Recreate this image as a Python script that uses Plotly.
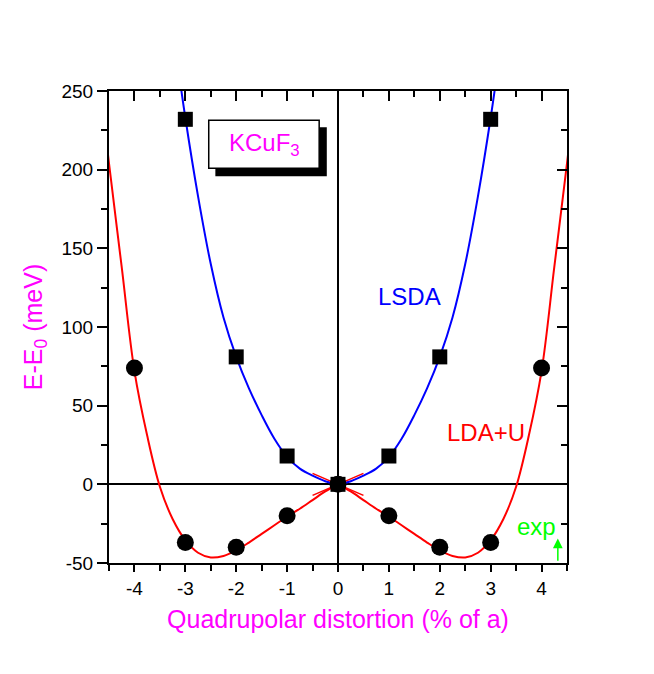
import plotly.graph_objects as go

# ---- data ----
lsda_x = [-3, -2, -1, 0, 1, 2, 3]
lsda_y = [232, 81, 18, 0, 18, 81, 232]

ldau_x = [-4, -3, -2, -1, 0, 1, 2, 3, 4]
ldau_y = [74, -37, -40, -20, 0, -20, -40, -37, 74]

lsda_fit_x = [-3.15, -3.0, -2.75, -2.5, -2.25, -2.0, -1.75, -1.5, -1.25, -1.0, -0.75, -0.5, -0.25, 0.0,
              0.25, 0.5, 0.75, 1.0, 1.25, 1.5, 1.75, 2.0, 2.25, 2.5, 2.75, 3.0, 3.15]
lsda_fit_y = [267, 233, 183, 140, 106, 81, 61, 44, 29, 17.5, 10, 5.5, 2, 0,
              2, 5.5, 10, 17.5, 29, 44, 61, 81, 106, 140, 183, 233, 267]

ldau_fit_left_x = [-4.6, -4.5, -4.25, -4.0, -3.75, -3.5, -3.25, -3.0, -2.75, -2.5, -2.25, -2.0,
                   -1.75, -1.5, -1.25, -1.0, -0.75, -0.5, -0.25, 0.0]
ldau_fit_left_y = [232, 204, 138, 72, 31, -1.5, -22, -35.5, -43.5, -46.5, -45.5, -42,
                   -37, -31.5, -26, -20.5, -15.5, -10, -4.5, 0]
ldau_fit_right_x = [0.0, 0.25, 0.5, 0.75, 1.0, 1.25, 1.5, 1.75, 2.0, 2.25, 2.5, 2.75, 3.0,
                    3.25, 3.5, 3.75, 4.0, 4.25, 4.5, 4.6]
ldau_fit_right_y = [0, -4.5, -10, -15.5, -20.5, -26, -31.5, -37, -42, -45.5, -46.5, -43.5, -35.5,
                    -22, -1.5, 31, 72, 138, 204, 232]

tangent1_x = [-0.5, 0.5]
tangent1_y = [7, -7]
tangent2_x = [-0.5, 0.5]
tangent2_y = [-7, 7]

x_ticks = [-4, -3, -2, -1, 0, 1, 2, 3, 4]
x_ticklabels = ["-4", "-3", "-2", "-1", "0", "1", "2", "3", "4"]
y_ticks = [-50, 0, 50, 100, 150, 200, 250]
y_ticklabels = ["-50", "0", "50", "100", "150", "200", "250"]

FONT = "Liberation Sans, Arial, Helvetica, sans-serif"
BLUE = "#0000ff"
RED = "#ff0000"
MAG = "#ff00ff"
GREEN = "#00ff00"

fig = go.Figure()

fig.add_trace(go.Scatter(x=lsda_fit_x, y=lsda_fit_y, mode="lines", line=dict(color=BLUE, width=2, shape="spline"),
                         hoverinfo="skip", showlegend=False))
fig.add_trace(go.Scatter(x=ldau_fit_left_x, y=ldau_fit_left_y, mode="lines",
                         line=dict(color=RED, width=2, shape="spline"), hoverinfo="skip", showlegend=False))
fig.add_trace(go.Scatter(x=ldau_fit_right_x, y=ldau_fit_right_y, mode="lines",
                         line=dict(color=RED, width=2, shape="spline"), hoverinfo="skip", showlegend=False))
fig.add_trace(go.Scatter(x=tangent1_x, y=tangent1_y, mode="lines", line=dict(color=RED, width=1.5),
                         hoverinfo="skip", showlegend=False))
fig.add_trace(go.Scatter(x=tangent2_x, y=tangent2_y, mode="lines", line=dict(color=RED, width=1.5),
                         hoverinfo="skip", showlegend=False))

fig.add_trace(go.Scatter(x=lsda_x, y=lsda_y, mode="markers",
                         marker=dict(symbol="square", size=15, color="black"), showlegend=False))
fig.add_trace(go.Scatter(x=ldau_x, y=ldau_y, mode="markers",
                         marker=dict(symbol="circle", size=17, color="black"), showlegend=False))

# invisible trace to activate mirrored (top/right) axes
fig.add_trace(go.Scatter(x=lsda_x, y=lsda_y, mode="markers", xaxis="x2", yaxis="y2",
                         marker=dict(opacity=0), hoverinfo="skip", showlegend=False))

axis_common = dict(showgrid=False, linecolor="black", linewidth=2, tickcolor="black", tickwidth=2)

fig.update_layout(
    width=654, height=674,
    margin=dict(l=101, r=95, t=83, b=119),
    paper_bgcolor="white", plot_bgcolor="white",
    font=dict(family=FONT, color="black", size=19),
    xaxis=dict(range=[-4.5, 4.5], tickvals=x_ticks, ticktext=x_ticklabels, ticks="outside", ticklen=7,
               minor=dict(dtick=0.5, tick0=0, ticks="outside", ticklen=6, tickcolor="black", tickwidth=2),
               zeroline=True, zerolinecolor="black", zerolinewidth=1.5,
               tickfont=dict(size=19),
               title=dict(text="Quadrupolar distortion (% of a)", font=dict(color=MAG, size=25), standoff=13),
               **axis_common),
    yaxis=dict(range=[-50, 250], tickvals=y_ticks, ticktext=y_ticklabels, ticks="outside", ticklen=10,
               minor=dict(dtick=25, tick0=0, ticks="outside", ticklen=6, tickcolor="black", tickwidth=2),
               zeroline=True, zerolinecolor="black", zerolinewidth=1.5,
               tickfont=dict(size=19),
               title=dict(text="E-E<sub>0</sub> (meV)", font=dict(color=MAG, size=25), standoff=12),
               **axis_common),
    xaxis2=dict(range=[-4.5, 4.5], overlaying="x", side="top", tickvals=x_ticks, ticks="inside", ticklen=10,
                showticklabels=False, zeroline=False,
                minor=dict(dtick=0.5, tick0=0, ticks="inside", ticklen=6, tickcolor="black", tickwidth=2),
                **axis_common),
    yaxis2=dict(range=[-50, 250], overlaying="y", side="right", tickvals=y_ticks, ticks="inside", ticklen=10,
                showticklabels=False, zeroline=False,
                minor=dict(dtick=25, tick0=0, ticks="inside", ticklen=6, tickcolor="black", tickwidth=2),
                **axis_common),
    shapes=[
        dict(type="rect", xref="x", yref="y", x0=-2.41, x1=-0.22, y0=195.8, y1=227,
             fillcolor="black", line=dict(width=0), layer="above"),
        dict(type="rect", xref="x", yref="y", x0=-2.54, x1=-0.37, y0=200.9, y1=231.4,
             fillcolor="white", line=dict(color="black", width=1.5), layer="above"),
    ],
    annotations=[
        dict(x=-1.45, y=216, xref="x", yref="y", text="KCuF<sub>3</sub>", showarrow=False,
             font=dict(color=MAG, size=24, family=FONT)),
        dict(x=1.4, y=119.5, xref="x", yref="y", text="LSDA", showarrow=False,
             font=dict(color=BLUE, size=24, family=FONT)),
        dict(x=2.9, y=33, xref="x", yref="y", text="LDA+U", showarrow=False,
             font=dict(color=RED, size=24, family=FONT)),
        dict(x=3.91, y=-27, xref="x", yref="y", text="exp", showarrow=False,
             font=dict(color=GREEN, size=24, family=FONT)),
        dict(x=4.32, y=-34.5, ax=4.32, ay=-49.5, xref="x", yref="y", axref="x", ayref="y", text="",
             showarrow=True, arrowhead=2, arrowsize=1.3, arrowwidth=1.5, arrowcolor=GREEN),
    ],
)

fig.write_html("out.html")
